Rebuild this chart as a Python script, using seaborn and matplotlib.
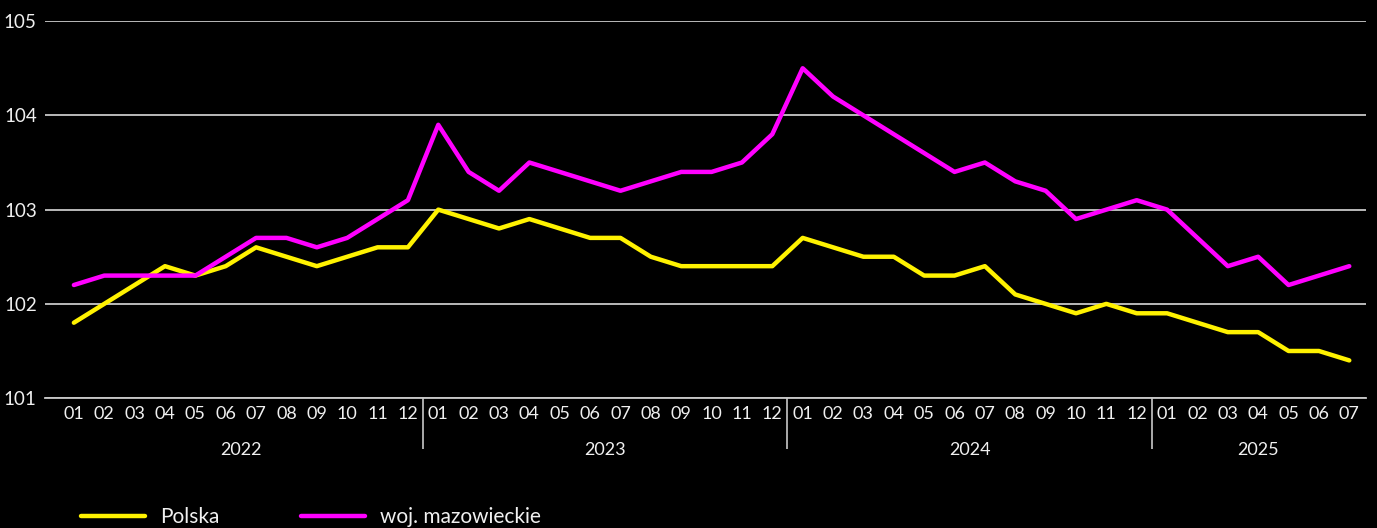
import numpy as np
import pandas as pd
import matplotlib
matplotlib.use("Agg")
import matplotlib.pyplot as plt
import seaborn as sns

# Values (monthly index, previous year = 100)
years = ["2022", "2023", "2024", "2025"]
months_per_year = [12, 12, 12, 7]
polska = [101.8, 102.0, 102.2, 102.4, 102.3, 102.4, 102.6, 102.5, 102.4, 102.5, 102.6, 102.6,
          103.0, 102.9, 102.8, 102.9, 102.8, 102.7, 102.7, 102.5, 102.4, 102.4, 102.4, 102.4,
          102.7, 102.6, 102.5, 102.5, 102.3, 102.3, 102.4, 102.1, 102.0, 101.9, 102.0, 101.9,
          101.9, 101.8, 101.7, 101.7, 101.5, 101.5, 101.4]
mazowieckie = [102.2, 102.3, 102.3, 102.3, 102.3, 102.5, 102.7, 102.7, 102.6, 102.7, 102.9, 103.1,
               103.9, 103.4, 103.2, 103.5, 103.4, 103.3, 103.2, 103.3, 103.4, 103.4, 103.5, 103.8,
               104.5, 104.2, 104.0, 103.8, 103.6, 103.4, 103.5, 103.3, 103.2, 102.9, 103.0, 103.1,
               103.0, 102.7, 102.4, 102.5, 102.2, 102.3, 102.4]
series_names = ["Polska", "woj. mazowieckie"]
colors = ["#fff200", "#ff00ff"]
y_ticks = [101, 102, 103, 104, 105]

month_labels = [f"{m:02d}" for n in months_per_year for m in range(1, n + 1)]
idx = np.arange(len(month_labels))

df = pd.DataFrame({
    "idx": np.concatenate([idx, idx]),
    "value": polska + mazowieckie,
    "series": [series_names[0]] * len(idx) + [series_names[1]] * len(idx),
})

sns.set_style("dark")
plt.rcParams["font.family"] = ["Lato", "DejaVu Sans"]
grid_col = "#c8c8c8"
text_col = "#f0f0f0"

fig = plt.figure(figsize=(13.77, 5.28), dpi=100, facecolor="black")
ax = fig.add_axes([0.0327, 0.246, 0.9593, 0.714])
ax.set_facecolor("black")

sns.lineplot(data=df, x="idx", y="value", hue="series", palette=colors,
             linewidth=3.2, ax=ax, legend=False)

ax.set_xlim(-0.95, len(idx) - 0.45)
ax.set_ylim(101, 105)
ax.set_yticks(y_ticks)
ax.set_yticklabels([str(v) for v in y_ticks])
ax.yaxis.grid(True, color=grid_col, linewidth=1.3)
ax.xaxis.grid(False)
for s in ["left", "right", "top"]:
    ax.spines[s].set_visible(False)
ax.spines["bottom"].set_visible(True)
ax.spines["bottom"].set_color(grid_col)
ax.spines["bottom"].set_linewidth(1.3)
ax.set_axisbelow(True)

ax.set_xticks(idx)
ax.set_xticklabels(month_labels)
ax.tick_params(axis="x", length=0, pad=6, labelsize=13, labelcolor=text_col)
ax.tick_params(axis="y", length=0, pad=6, labelsize=13.5, labelcolor=text_col)

# year separators as minor ticks
bounds = np.cumsum(months_per_year)[:-1] - 0.5
ax.set_xticks(bounds, minor=True)
ax.tick_params(axis="x", which="minor", bottom=True, length=37, width=1.2,
               color=grid_col, direction="out")

start = 0
for y, n in zip(years, months_per_year):
    center = start + (n - 1) / 2
    ax.text(center, -0.138, y, transform=ax.get_xaxis_transform(),
            ha="center", va="center", fontsize=13, color=text_col)
    start += n

ax.set_xlabel("")
ax.set_ylabel("")

handles = [plt.Line2D([], [], color=c, linewidth=3.2) for c in colors]
fig.legend(handles, series_names, loc="center left", bbox_to_anchor=(0.045, 0.021),
           ncol=2, frameon=False, handlelength=3.1, columnspacing=3.9, handletextpad=0.7,
           fontsize=15, labelcolor=text_col)

fig.savefig("out.png", dpi=100, facecolor="black")
